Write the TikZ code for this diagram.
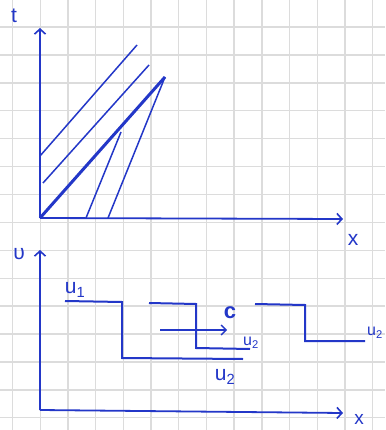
\documentclass[tikz,border=0pt]{standalone}
\usepackage{fontspec}
\setmainfont{Liberation Sans}
\usetikzlibrary{arrows.meta}
\definecolor{ink}{RGB}{35,55,200}
\definecolor{gridc}{RGB}{220,220,220}
\tikzset{
  ax/.style={draw=ink,line width=1.8pt,-{Straight Barb[length=5pt,width=11pt,line width=1.6pt]}},
  thin/.style={draw=ink,line width=1.5pt},
  thick/.style={draw=ink,line width=3pt},
  stepline/.style={draw=ink,line width=2pt,line join=miter},
  lbl/.style={text=ink,inner sep=0pt,font=\fontsize{21}{21}\selectfont},
  slbl/.style={text=ink,inner sep=0pt,font=\fontsize{16}{16}\selectfont},
}
\begin{document}
\begin{tikzpicture}[x=1pt,y=-1pt]
\useasboundingbox (0,0) rectangle (385,430);
\fill[white] (0,0) rectangle (385,430);
% grid paper
\foreach \i in {0,...,13} {\draw[gridc,line width=1.4pt] ({12.5+27.7*\i},0) -- ({12.5+27.7*\i},430);}
\foreach \j in {0,...,15} {\draw[gridc,line width=1.4pt] (0,{-0.8+27.9*\j}) -- (385,{-0.8+27.9*\j});}
% ---------- top plot ----------
\coordinate (O1) at (40,218);
\coordinate (T) at (40,28);
\coordinate (X1) at (343,219);
\draw[ax] (O1) -- (T);
\draw[ax] (O1) -- (X1);
\node[lbl] (tl) at (14,16) {t};
\node[lbl] (xl1) at (353,240) {x};
\coordinate (a1) at (40,156); \coordinate (a2) at (137,45);
\coordinate (b1) at (43,183); \coordinate (b2) at (149,65);
\coordinate (P) at (165,77);
\coordinate (c1) at (86,218); \coordinate (c2) at (121,132);
\coordinate (d1) at (108,218);
\draw[thin] (a1) -- (a2);
\draw[thin] (b1) -- (b2);
\draw[thick] (O1) -- (P);
\draw[thin] (c1) -- (c2);
\draw[thin] (d1) -- (P);
% ---------- bottom plot ----------
\coordinate (O2) at (40,410);
\coordinate (V) at (40,250);
\coordinate (X2) at (343,413);
\draw[ax] (O2) -- (V);
\draw[ax] (O2) -- (X2);
\node[lbl] (vl) at (19,254) {υ};
\node[lbl,font=\fontsize{19}{19}\selectfont] (xl2) at (359,419) {x};
% step 1
\coordinate (s1a) at (65,301); \coordinate (s1b) at (122,302);
\coordinate (s1c) at (122,358); \coordinate (s1d) at (243,359);
\draw[stepline] (s1a) -- (s1b) -- (s1c) -- (s1d);
\node[lbl] (u1) at (75,290) {u\textsubscript{1}};
\node[lbl] (u2a) at (225,377) {u\textsubscript{2}};
% step 2
\coordinate (s2a) at (149,303); \coordinate (s2b) at (196,304);
\coordinate (s2c) at (196,348); \coordinate (s2d) at (250,349);
\draw[stepline] (s2a) -- (s2b) -- (s2c) -- (s2d);
\node[slbl] (u2b) at (251,343) {u\textsubscript{2}};
\coordinate (ar1) at (160,330); \coordinate (ar2) at (227,330);
\draw[draw=ink,line width=1.3pt,-{Straight Barb[length=5pt,width=10pt,line width=1.3pt]}] (ar1) -- (ar2);
\node[text=ink,inner sep=0pt,font=\bfseries\fontsize{22}{22}\selectfont] (cl) at (230,313) {c};
% step 3
\coordinate (s3a) at (255,304); \coordinate (s3b) at (305,305);
\coordinate (s3c) at (305,341); \coordinate (s3d) at (365,341);
\draw[stepline] (s3a) -- (s3b) -- (s3c) -- (s3d);
\node[slbl] (u2c) at (375,333) {u\textsubscript{2}};
\end{tikzpicture}
\end{document}
